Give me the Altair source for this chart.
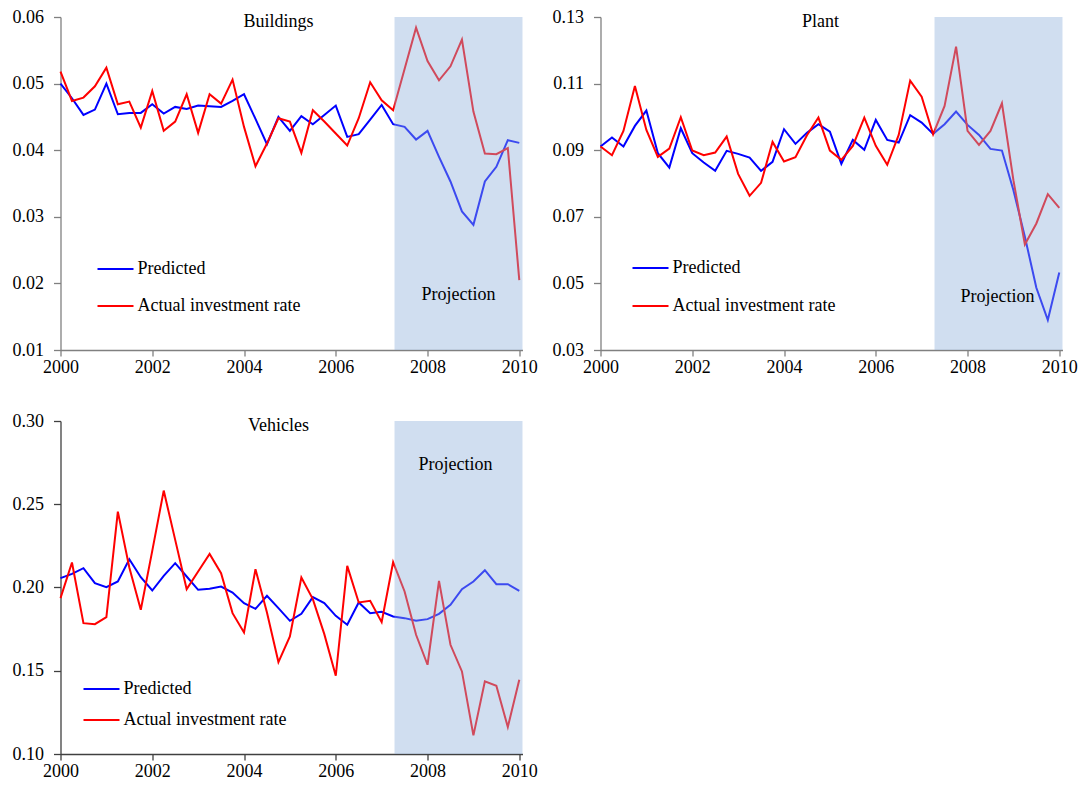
import altair as alt
import pandas as pd

FONT = "Liberation Serif"

# Quarterly observations, 2000Q1 .. 2010Q1
years = list(range(2000, 2011))
quarter_offsets = [0.0, 0.25, 0.5, 0.75]
quarters = [y + q for y in years for q in quarter_offsets][:41]

series_names = ["Predicted", "Actual investment rate"]
projection_span = [2007.28, 2010.07]

buildings_pred = [0.0500, 0.0478, 0.0453, 0.0461, 0.0500, 0.0454, 0.0456, 0.0456, 0.0469, 0.0455,
                  0.0465, 0.0462, 0.0467, 0.0466, 0.0465, 0.0474, 0.0484, 0.0447, 0.0409, 0.0450,
                  0.0429, 0.0451, 0.0439, 0.0453, 0.0467, 0.0420, 0.0424, 0.0446, 0.0468, 0.0439,
                  0.0435, 0.0416, 0.0429, 0.0390, 0.0353, 0.0308, 0.0288, 0.0353, 0.0375, 0.0415,
                  0.0411]
buildings_actual = [0.0518, 0.0474, 0.0479, 0.0496, 0.0524, 0.0469, 0.0473, 0.0434, 0.0489, 0.0429,
                    0.0443, 0.0484, 0.0426, 0.0484, 0.0470, 0.0506, 0.0435, 0.0376, 0.0410, 0.0448,
                    0.0443, 0.0396, 0.0460, 0.0443, 0.0425, 0.0407, 0.0448, 0.0502, 0.0475, 0.0460,
                    0.0522, 0.0584, 0.0534, 0.0505, 0.0526, 0.0566, 0.0458, 0.0395, 0.0394, 0.0403,
                    0.0205]

plant_pred = [0.0911, 0.0938, 0.0911, 0.0973, 0.1019, 0.0891, 0.0848, 0.0966, 0.0891, 0.0863,
              0.0838, 0.0898, 0.0889, 0.0878, 0.0838, 0.0865, 0.0963, 0.0919, 0.0952, 0.0978,
              0.0956, 0.0859, 0.0931, 0.0901, 0.0991, 0.0931, 0.0923, 0.1005, 0.0983, 0.0949,
              0.0978, 0.1016, 0.0976, 0.0946, 0.0904, 0.0899, 0.0780, 0.0640, 0.0487, 0.0390,
              0.0533]
plant_actual = [0.0911, 0.0885, 0.0958, 0.1093, 0.0961, 0.0880, 0.0905, 0.0999, 0.0899, 0.0885,
                0.0893, 0.0941, 0.0829, 0.0763, 0.0802, 0.0925, 0.0866, 0.0879, 0.0945, 0.0998,
                0.0899, 0.0871, 0.0913, 0.0998, 0.0913, 0.0856, 0.0946, 0.1109, 0.1061, 0.0948,
                0.1033, 0.1211, 0.0958, 0.0916, 0.0958, 0.1041, 0.0810, 0.0617, 0.0680, 0.0768,
                0.0727]

vehicles_pred = [0.2056, 0.2082, 0.2116, 0.2026, 0.2002, 0.2036, 0.2170, 0.2062, 0.1982, 0.2070,
                 0.2146, 0.2066, 0.1986, 0.1992, 0.2006, 0.1970, 0.1906, 0.1872, 0.1950, 0.1876,
                 0.1800, 0.1842, 0.1942, 0.1906, 0.1830, 0.1776, 0.1910, 0.1846, 0.1854, 0.1826,
                 0.1816, 0.1800, 0.1810, 0.1842, 0.1896, 0.1990, 0.2036, 0.2104, 0.2020, 0.2020,
                 0.1980]
vehicles_actual = [0.1936, 0.2150, 0.1786, 0.1780, 0.1822, 0.2456, 0.2120, 0.1866, 0.2220, 0.2582,
                   0.2286, 0.1990, 0.2096, 0.2202, 0.2086, 0.1846, 0.1730, 0.2110, 0.1850, 0.1552,
                   0.1706, 0.2060, 0.1930, 0.1720, 0.1470, 0.2130, 0.1910, 0.1920, 0.1792, 0.2152,
                   0.1976, 0.1716, 0.1536, 0.2040, 0.1656, 0.1496, 0.1112, 0.1436, 0.1410, 0.1162,
                   0.1446]

x_ticks = [2000, 2002, 2004, 2006, 2008, 2010]
buildings_ticks = [0.01, 0.02, 0.03, 0.04, 0.05, 0.06]
plant_ticks = [0.03, 0.05, 0.07, 0.09, 0.11, 0.13]
vehicles_ticks = [0.10, 0.15, 0.20, 0.25, 0.30]

W, H = 462, 333
BLUE, RED = "#0000FF", "#FF0000"
SHADE = "#90B1DB"


def panel(name, pred, actual, ticks, axis_color, title_x, legend_x, legend_y, proj_xy):
    df = pd.DataFrame({"t": quarters, "pred": pred, "actual": actual})
    x = alt.X("t:Q",
              scale=alt.Scale(domain=[2000, projection_span[1]], nice=False, zero=False),
              axis=alt.Axis(values=x_ticks, format="d", title=None, grid=False,
                            domainColor=axis_color, tickColor=axis_color, domainWidth=1.3,
                            tickWidth=1.3, tickSize=6, labelPadding=2,
                            labelFont=FONT, labelFontSize=18, labelColor="black",
                            labelFlush=False))
    yscale = alt.Scale(domain=[ticks[0], ticks[-1]], nice=False, zero=False)
    yaxis = alt.Axis(values=ticks, format=".2f", title=None, grid=False,
                     domainColor=axis_color, tickColor=axis_color, domainWidth=1.3,
                     tickWidth=1.3, tickSize=7, labelPadding=10,
                     labelFont=FONT, labelFontSize=18, labelColor="black")

    blue = alt.Chart(df).mark_line(color=BLUE, strokeWidth=2).encode(
        x=x, y=alt.Y("pred:Q", scale=yscale, axis=yaxis))
    red = alt.Chart(df).mark_line(color=RED, strokeWidth=2).encode(
        x="t:Q", y="actual:Q")

    shade = alt.Chart(pd.DataFrame({"x0": [projection_span[0]], "x1": [projection_span[1]]})
                      ).mark_rect(color=SHADE, opacity=0.42).encode(
        x="x0:Q", x2="x1:Q", y=alt.value(0), y2=alt.value(H))

    title = alt.Chart(pd.DataFrame({"s": [name]})).mark_text(
        font=FONT, fontSize=18, color="black", align="center", baseline="middle").encode(
        text="s:N", x=alt.value(title_x), y=alt.value(5))

    proj = alt.Chart(pd.DataFrame({"s": ["Projection"]})).mark_text(
        font=FONT, fontSize=18, color="black", align="center", baseline="middle").encode(
        text="s:N", x=alt.value(proj_xy[0]), y=alt.value(proj_xy[1]))

    legend_layers = []
    for label, colour, ly in zip(series_names, [BLUE, RED], legend_y):
        legend_layers.append(
            alt.Chart(pd.DataFrame({"s": [label]})).mark_rule(color=colour, strokeWidth=2).encode(
                x=alt.value(legend_x), x2=alt.value(legend_x + 36), y=alt.value(ly)))
        legend_layers.append(
            alt.Chart(pd.DataFrame({"s": [label]})).mark_text(
                font=FONT, fontSize=18, color="black", align="left", baseline="middle").encode(
                text="s:N", x=alt.value(legend_x + 40), y=alt.value(ly)))

    return alt.layer(blue, red, shade, title, proj, *legend_layers).properties(width=W, height=H)


buildings = panel("Buildings", buildings_pred, buildings_actual, buildings_ticks, "#808080",
                  218, 37, [252, 289], (398, 278))
plant = panel("Plant", plant_pred, plant_actual, plant_ticks, "#808080",
              220, 32, [251, 289], (397, 280))
vehicles = panel("Vehicles", vehicles_pred, vehicles_actual, vehicles_ticks, "#404040",
                 218, 23, [268, 299], (395, 44))

chart = alt.concat(
    buildings, plant, vehicles, columns=2,
    spacing={"row": 71, "column": 78}, bounds="flush",
).properties(
    padding={"left": 11.5, "top": 8, "right": 0, "bottom": 0},
    background="white",
).configure_view(strokeWidth=0)

chart.save("out.html", embed_options={"renderer": "svg", "actions": False})
